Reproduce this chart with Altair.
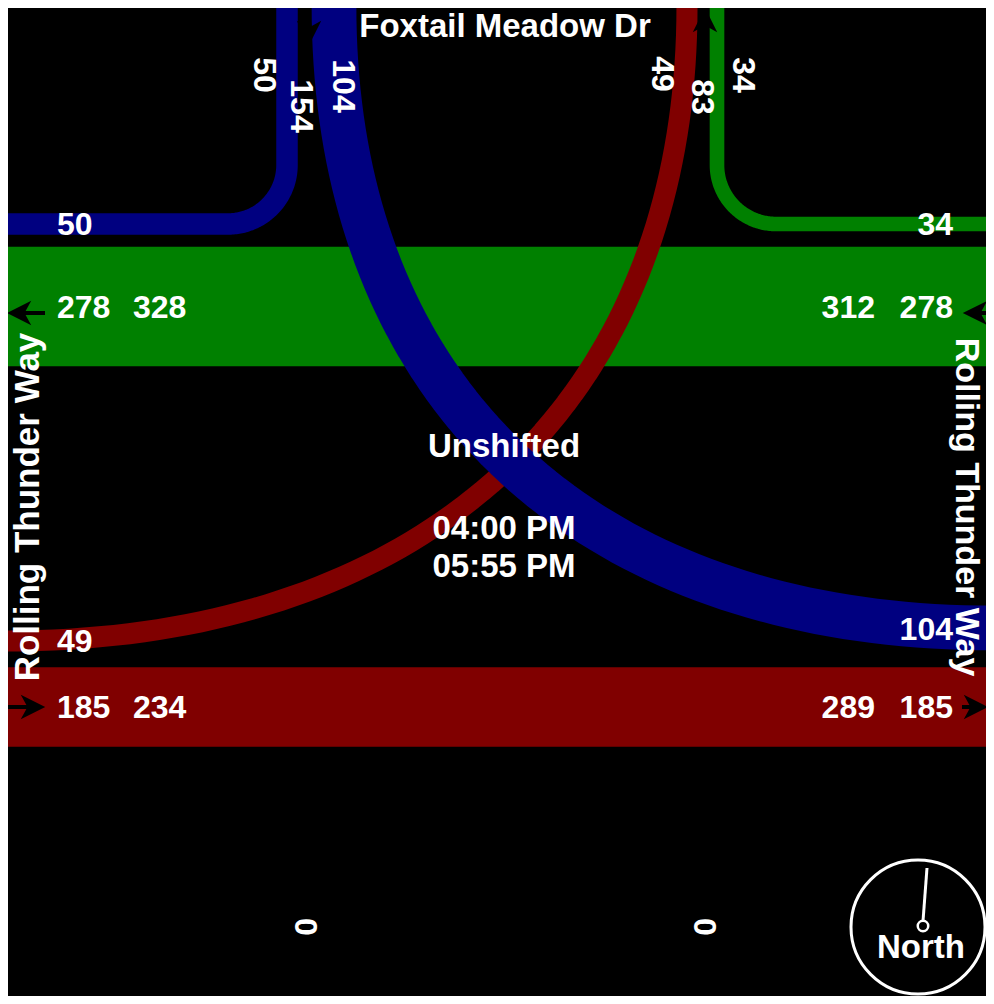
import altair as alt
import numpy as np
import pandas as pd

# ---------------- data ----------------
ns_street = "Foxtail Meadow Dr"
ew_street = "Rolling Thunder Way"
center_text = ["Unshifted", "04:00 PM", "05:55 PM"]
compass_text = "North"

# movement volumes
wb_thru, eb_thru = 278, 185
sb_right, sb_left = 50, 104
eb_left, wb_right = 49, 34

# leg labels
west_text = ["50", "278", "328", "49", "185", "234"]
east_text = ["34", "312", "278", "104", "289", "185"]
north_text = ["50", "154", "104", "49", "83", "34"]
south_text = ["0", "0"]

# ---------------- layout (page pixel space) ----------------
K = 0.43  # px per vehicle
BLUE, GREEN, RED = "#000080", "#008000", "#800000"
W, H = 978, 988
FONT = "Liberation Sans"

xs = alt.Scale(domain=[8, 8 + W], nice=False, zero=False)
ys = alt.Scale(domain=[8, 8 + H], nice=False, zero=False, reverse=True)
X = lambda f="x": alt.X(f"{f}:Q", scale=xs, axis=None)
Y = lambda f="y": alt.Y(f"{f}:Q", scale=ys, axis=None)


def bez(p0, p1, p2, p3, n=80):
    t = np.linspace(0, 1, n)[:, None]
    p0, p1, p2, p3 = map(np.array, (p0, p1, p2, p3))
    pts = (1 - t) ** 3 * p0 + 3 * (1 - t) ** 2 * t * p1 + 3 * (1 - t) * t ** 2 * p2 + t ** 3 * p3
    return [tuple(p) for p in pts]


c = 0.5523 * 59
paths = [
    (sb_right, BLUE, [(287, -5)] + bez((287, 165), (287, 165 + c), (228 + c, 224), (228, 224)) + [(-5, 224)]),
    (wb_right, GREEN, [(717, -5)] + bez((717, 165), (717, 165 + c), (776 - c, 224), (776, 224)) + [(1005, 224)]),
    (eb_left, RED, [(-5, 641)] + bez((6, 641), (428, 641), (687, 400), (687, 6)) + [(687, -5)]),
    (sb_left, BLUE, [(334, -5)] + bez((334, 6), (334, 392), (585, 628), (994, 628)) + [(1005, 628)]),
]

bands = pd.DataFrame({
    "vol": [wb_thru, eb_thru],
    "yc": [306.5, 707],
    "color": [GREEN, RED],
})
bands["y1"] = bands["yc"] - K * bands["vol"] / 2
bands["y2"] = bands["yc"] + K * bands["vol"] / 2
bands["x1"] = -5
bands["x2"] = 1005

layers = []
layers.append(
    alt.Chart(bands).mark_rect(clip=True).encode(
        x=X("x1"), x2="x2", y=Y("y1"), y2="y2",
        color=alt.Color("color:N", scale=None))
)
for vol, col, pts in paths:
    df = pd.DataFrame(pts, columns=["x", "y"])
    df["i"] = range(len(df))
    layers.append(
        alt.Chart(df).mark_line(color=col, strokeWidth=K * vol, strokeCap="butt",
                                strokeJoin="round", clip=True)
        .encode(x=X(), y=Y(), order="i:Q")
    )

# arrows
shafts = pd.DataFrame({
    "x": [18, 975, -5, 962],
    "x2": [45, 1005, 30, 978],
    "y": [313, 313, 707, 707],
})
layers.append(
    alt.Chart(shafts).mark_rule(color="black", strokeWidth=4, clip=True)
    .encode(x=X(), x2="x2", y=Y(), y2="y")
)
heads = {
    "M-1,0L1,-1L0.45,0L1,1Z": [(19, 313), (975, 313)],
    "M1,0L-1,-1L-0.45,0L-1,1Z": [(33, 707), (976, 707)],
    "M0,-1L-1,1L0,0.45L1,1Z": [(705, 20)],
    "M0,1L-1,-1L0,-0.45L1,-1Z": [(309, 33)],
}
for shape, pts in heads.items():
    df = pd.DataFrame(pts, columns=["x", "y"])
    layers.append(
        alt.Chart(df).mark_point(shape=shape, size=600, filled=True, color="black",
                                 opacity=1, clip=True)
        .encode(x=X(), y=Y())
    )

# compass
layers.append(
    alt.Chart(pd.DataFrame({"x": [918], "y": [927]})).mark_point(
        shape="circle", size=134 ** 2, filled=False, color="white", strokeWidth=3, opacity=1)
    .encode(x=X(), y=Y())
)
layers.append(
    alt.Chart(pd.DataFrame({"x": [923], "y": [921], "x2": [927], "y2": [868]}))
    .mark_rule(color="white", strokeWidth=3).encode(x=X(), y=Y(), x2="x2", y2="y2")
)
layers.append(
    alt.Chart(pd.DataFrame({"x": [923], "y": [926]})).mark_point(
        shape="circle", size=110, filled=True, fill="black", stroke="white",
        strokeWidth=2.5, opacity=1)
    .encode(x=X(), y=Y())
)

# texts
def text_layer(texts, xs_, ys_, align, baseline, size, angle=0):
    df = pd.DataFrame({"t": texts, "x": xs_, "y": ys_})
    return alt.Chart(df).mark_text(
        align=align, baseline=baseline, font=FONT, fontWeight="bold",
        fontSize=size, color="white", angle=angle
    ).encode(x=X(), y=Y(), text="t:N")

layers.append(text_layer(west_text, [57, 57, 133, 57, 57, 133],
                         [235, 318, 318, 652, 718, 718], "left", "alphabetic", 32))
layers.append(text_layer(east_text, [953, 875, 953, 953, 875, 953],
                         [235, 318, 318, 640, 718, 718], "right", "alphabetic", 32))
layers.append(text_layer(north_text, [264, 301, 343, 662, 702, 743],
                         [75, 106, 86, 74, 97, 75], "center", "middle", 32, 90))
layers.append(text_layer(south_text, [305, 704], [927, 927], "center", "middle", 32, 90))
layers.append(text_layer([ns_street] + center_text + [compass_text],
                         [505, 504, 504, 504, 921],
                         [37, 457, 539, 577, 958], "center", "alphabetic", 33))
layers.append(text_layer([ew_street], [28], [507], "center", "middle", 35, 270))
layers.append(text_layer([ew_street], [966], [507], "center", "middle", 34, 90))

chart = alt.layer(*layers).properties(
    width=W, height=H, background="black", padding=0,
    autosize=alt.AutoSizeParams(type="none"),
).configure_view(stroke=None, fill="black")

chart.save("out.html", embed_options={"renderer": "svg", "actions": False})
